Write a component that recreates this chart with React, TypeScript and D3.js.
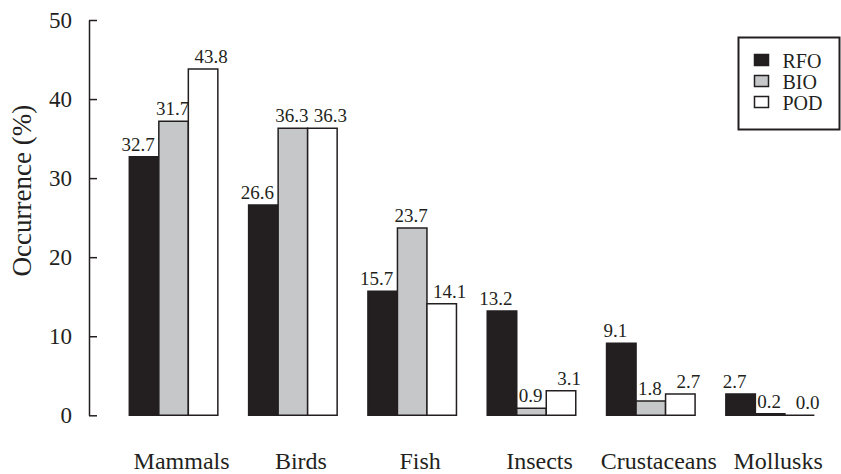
import { useEffect, useRef } from 'react';
import * as d3 from 'd3';

const categories = ['Mammals', 'Birds', 'Fish', 'Insects', 'Crustaceans', 'Mollusks'];
const seriesNames = ['RFO', 'BIO', 'POD'];
const rfoValues = [32.7, 26.6, 15.7, 13.2, 9.1, 2.7];
const bioValues = [37.2, 36.3, 23.7, 0.9, 1.8, 0.2];
const podValues = [43.8, 36.3, 14.1, 3.1, 2.7, 0.0];
// printed labels (the Mammals BIO bar is drawn taller than its label says)
const rfoLabels = ['32.7', '26.6', '15.7', '13.2', '9.1', '2.7'];
const bioLabels = ['31.7', '36.3', '23.7', '0.9', '1.8', '0.2'];
const podLabels = ['43.8', '36.3', '14.1', '3.1', '2.7', '0.0'];
const yTicks = [0, 10, 20, 30, 40, 50];

const WIDTH = 841;
const HEIGHT = 474;
const FONT = '"Liberation Serif", "Times New Roman", Times, serif';
const INK = '#231f20';

export default function App() {
  const svgRef = useRef<SVGSVGElement>(null);

  useEffect(() => {
    if (!svgRef.current) return;
    const svg = d3.select(svgRef.current);
    svg.selectAll('*').remove();

    const values = [rfoValues, bioValues, podValues];
    const labels = [rfoLabels, bioLabels, podLabels];
    const fills = [INK, '#c6c7c9', '#ffffff'];
    const labelShift = [-6, -1, 8];

    // Scales
    const x0 = d3.scaleBand<string>()
      .domain(categories)
      .range([113.8, 829.9])
      .paddingInner(0.258)
      .paddingOuter(0.13);

    const x1 = d3.scaleBand<string>()
      .domain(seriesNames)
      .range([0, x0.bandwidth()]);

    const y = d3.scaleLinear()
      .domain([0, 50])
      .range([415.3, 20]);

    // Bars (drawn as paths so a zero bar still shows as a line)
    seriesNames.forEach((name, si) => {
      const g = svg.append('g');
      g.selectAll('path')
        .data(values[si])
        .enter().append('path')
        .attr('d', (v, i) => {
          const xa = (x0(categories[i]) || 0) + (x1(name) || 0);
          const xb = xa + x1.bandwidth();
          return `M${xa},${y(0)}V${y(v)}H${xb}V${y(0)}Z`;
        })
        .attr('fill', fills[si])
        .attr('stroke', INK)
        .attr('stroke-width', 1.5);

      g.selectAll('text')
        .data(labels[si])
        .enter().append('text')
        .attr('x', (_, i) => (x0(categories[i]) || 0) + (x1(name) || 0) + x1.bandwidth() / 2 + labelShift[si])
        .attr('y', (_, i) => y(values[si][i]) - 6)
        .attr('text-anchor', 'middle')
        .style('font-family', FONT)
        .style('font-size', '19px')
        .attr('fill', INK)
        .text(d => d);
    });

    // Y Axis, ticks pointing inward
    const axis = svg.append('g')
      .attr('transform', 'translate(89,0)')
      .call(d3.axisLeft(y).tickValues(yTicks).tickSize(-8).tickSizeOuter(0).tickPadding(17));
    axis.select('.domain').attr('stroke', INK).attr('stroke-width', 1.5);
    axis.selectAll('.tick line').attr('stroke', INK).attr('stroke-width', 1.5);
    axis.selectAll('.tick text')
      .style('font-family', FONT)
      .style('font-size', '23px')
      .attr('fill', INK);

    svg.append('text')
      .attr('transform', `translate(31,${(y(0) + y(50)) / 2 - 27}) rotate(-90)`)
      .attr('text-anchor', 'middle')
      .style('font-family', FONT)
      .style('font-size', '27px')
      .attr('fill', INK)
      .text('Occurrence (%)');

    // Category labels
    svg.append('g')
      .selectAll('text')
      .data(categories)
      .enter().append('text')
      .attr('x', d => (x0(d) || 0) + x0.bandwidth() / 2 + 8)
      .attr('y', 469)
      .attr('text-anchor', 'middle')
      .style('font-family', FONT)
      .style('font-size', '24px')
      .attr('fill', INK)
      .text(d => d);

    // Legend
    const legend = svg.append('g').attr('transform', 'translate(738.5,37.5)');
    legend.append('rect')
      .attr('width', 101)
      .attr('height', 92)
      .attr('fill', '#ffffff')
      .attr('stroke', INK)
      .attr('stroke-width', 2);

    seriesNames.forEach((name, i) => {
      const item = legend.append('g')
        .attr('transform', `translate(16, ${17 + i * 21})`);
      item.append('rect')
        .attr('width', 14)
        .attr('height', 11)
        .attr('fill', fills[i])
        .attr('stroke', INK)
        .attr('stroke-width', 1.5);
      item.append('text')
        .attr('x', 28)
        .attr('y', 13)
        .style('font-family', FONT)
        .style('font-size', '20px')
        .attr('fill', INK)
        .text(name);
    });
  }, []);

  return (
    <svg
      ref={svgRef}
      width={WIDTH}
      height={HEIGHT}
      style={{ position: 'absolute', left: 0, top: 0, background: '#ffffff' }}
    />
  );
}
